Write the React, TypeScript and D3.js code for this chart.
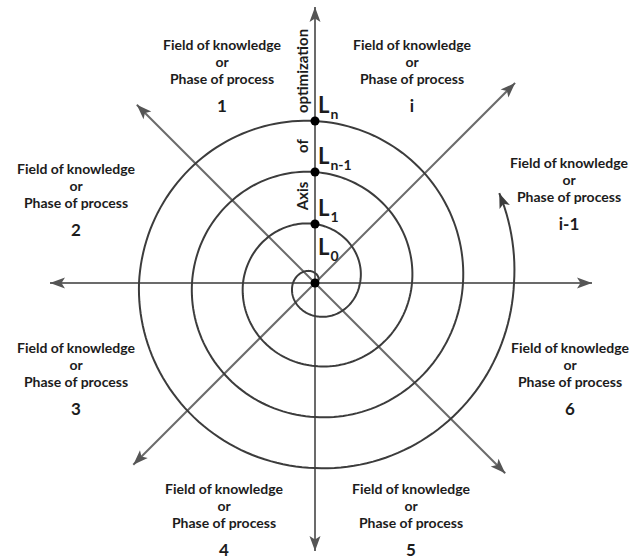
import React, { useEffect, useRef } from 'react'
import * as d3 from 'd3'

// spiral readings: turn angle (deg, counter-clockwise from east) -> radius (px)
const spiralTurnDeg = [0, 90, 180, 270, 360, 450, 540, 630, 720, 810, 900, 990, 1080, 1170, 1260, 1350, 1440, 1466]
const spiralRadius = [0, 10, 22, 33, 45, 59, 72, 83, 97, 111, 123, 134, 148, 162, 176, 185, 199, 205]

// the eight axes: direction (deg, counter-clockwise from east) and length to the arrow tip
const axisDeg = [0, 45, 90, 135, 180, 225, 270, 315]
const axisLength = [277, 283, 276, 252, 265, 257, 268, 269]

// levels along the axis of optimization
const levelNames = ['n', 'n-1', '1', '0']
const levelRadius = [162, 111, 59, 0]

const phaseIds = ['1', 'i', 'i-1', '2', '3', '6', '4', '5']
const phaseLines = ['Field of knowledge', 'or', 'Phase of process']
const axisWords = ['Axis', 'of', 'optimization']

const W = 642
const H = 559
const cx = 315
const cy = 283

// layout: centre x and first baseline of each phase label
const phaseAnchor: [number, number][] = [
  [222, 50], [412, 50], [569, 168], [76, 174],
  [76, 353], [570, 353], [224, 494], [411, 494],
]
const axisWordY = [196, 146, 71]

const lineColor = '#6b6b6b'
const spiralColor = '#3c3c3c'
const textColor = '#1c1c1c'
const font = 'Lato, "Open Sans", sans-serif'

const App: React.FC = () => {
  const svgRef = useRef<SVGSVGElement>(null)

  useEffect(() => {
    if (!svgRef.current) return
    const svg = d3.select(svgRef.current)
    svg.selectAll('*').remove()

    const defs = svg.append('defs')
    const addMarker = (id: string, color: string) => {
      defs.append('marker')
        .attr('id', id)
        .attr('markerUnits', 'userSpaceOnUse')
        .attr('viewBox', '-16 -7 17 14')
        .attr('refX', 0)
        .attr('refY', 0)
        .attr('markerWidth', 17)
        .attr('markerHeight', 14)
        .attr('orient', 'auto')
        .append('path')
        .attr('d', 'M0,0 L-15,-5.5 L-11.5,0 L-15,5.5 Z')
        .attr('fill', color)
    }
    addMarker('head-axis', '#555')
    addMarker('head-spiral', spiralColor)

    const g = svg.append('g').attr('transform', `translate(${cx},${cy})`)
    const rad = (deg: number) => (deg * Math.PI) / 180

    // axes
    g.selectAll('line.axis')
      .data(axisDeg)
      .join('line')
      .attr('class', 'axis')
      .attr('x1', 0)
      .attr('y1', 0)
      .attr('x2', (d, i) => axisLength[i] * Math.cos(rad(d)))
      .attr('y2', (d, i) => -axisLength[i] * Math.sin(rad(d)))
      .attr('stroke', lineColor)
      .attr('stroke-width', 2)
      .attr('marker-end', 'url(#head-axis)')

    // spiral: radius read at each quarter turn, mapped with a polylinear scale
    const rScale = d3.scaleLinear().domain(spiralTurnDeg).range(spiralRadius)
    const lastDeg = spiralTurnDeg[spiralTurnDeg.length - 1]
    const samples = d3.range(0, lastDeg, 2).concat([lastDeg])
    const spiral = d3.lineRadial<number>()
      .angle(d => rad(90 - d))
      .radius(d => rScale(d))
      .curve(d3.curveLinear)

    g.append('path')
      .attr('d', spiral(samples))
      .attr('fill', 'none')
      .attr('stroke', spiralColor)
      .attr('stroke-width', 2)
      .attr('marker-end', 'url(#head-spiral)')

    // level dots
    g.selectAll('circle.level')
      .data(levelRadius)
      .join('circle')
      .attr('class', 'level')
      .attr('cx', 0)
      .attr('cy', d => -d)
      .attr('r', 4.5)
      .attr('fill', '#000')

    // level labels L_n ... L_0
    const lvl = g.selectAll('text.level')
      .data(levelNames)
      .join('text')
      .attr('class', 'level')
      .attr('x', 3)
      .attr('y', (d, i) => -levelRadius[i] - 8 - (i === 3 ? 20 : 0))
      .attr('font-family', font)
      .attr('font-weight', 700)
      .attr('fill', textColor)
    lvl.append('tspan')
      .attr('font-size', 22)
      .text('L')
    lvl.append('tspan')
      .attr('font-size', 14)
      .attr('dx', 1)
      .attr('dy', 6)
      .text(d => d)

    // axis of optimization words
    svg.selectAll('text.axisword')
      .data(axisWords)
      .join('text')
      .attr('class', 'axisword')
      .attr('transform', (d, i) => `translate(${cx - 13},${axisWordY[i]}) rotate(-90)`)
      .attr('text-anchor', 'middle')
      .attr('dominant-baseline', 'central')
      .attr('font-family', font)
      .attr('font-weight', 700)
      .attr('font-size', 15)
      .attr('fill', textColor)
      .text(d => d)

    // phase labels
    const label = svg.selectAll('g.phase')
      .data(phaseIds)
      .join('g')
      .attr('class', 'phase')
      .attr('transform', (d, i) => `translate(${phaseAnchor[i][0]},${phaseAnchor[i][1]})`)
      .attr('font-family', font)
      .attr('font-weight', 700)
      .attr('fill', textColor)
      .attr('text-anchor', 'middle')

    label.selectAll('text.line')
      .data(phaseLines)
      .join('text')
      .attr('class', 'line')
      .attr('y', (d, i) => i * 17)
      .attr('font-size', 14)
      .text(d => d)

    label.append('text')
      .attr('y', 62)
      .attr('font-size', 17)
      .text(d => d)
  }, [])

  return (
    <svg
      ref={svgRef}
      width={W}
      height={H}
      style={{ position: 'absolute', left: 0, top: 0, background: '#fff' }}
    />
  )
}

export default App
